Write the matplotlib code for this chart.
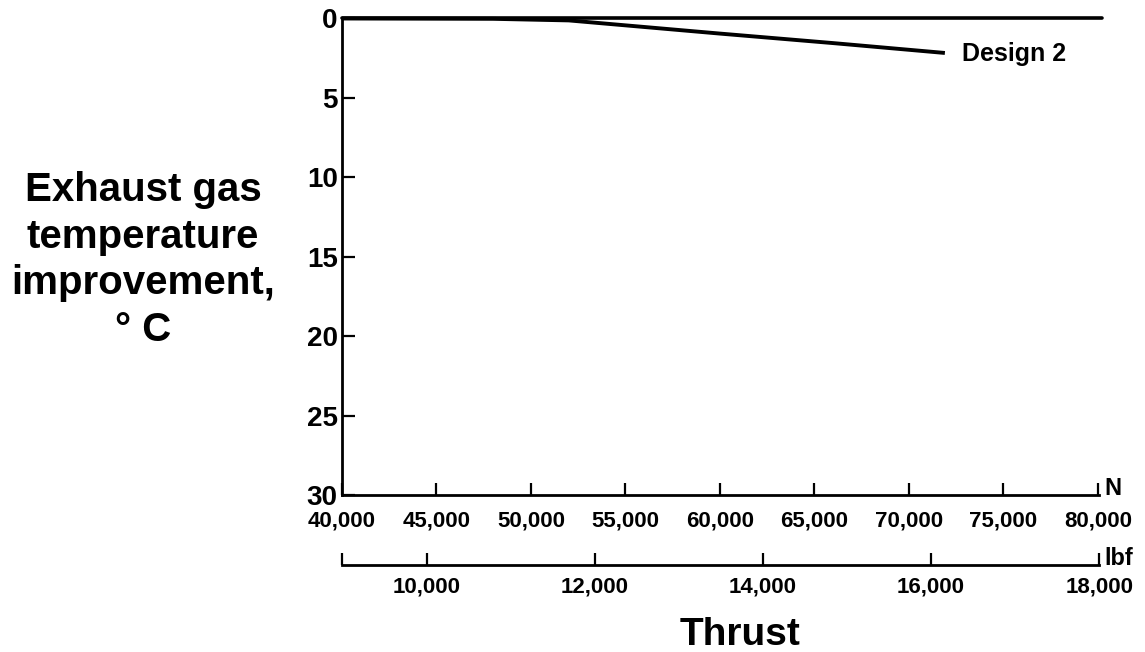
import matplotlib
matplotlib.use("Agg")
import matplotlib.pyplot as plt

plt.rcParams['font.family'] = ['Liberation Sans', 'DejaVu Sans']
plt.rcParams['font.weight'] = 'bold'

# ── Data ──────────────────────────────────────────────────────────────────────
thrust_base = [40000, 80200]          # N
egt_base    = [0, 0]                  # °C
thrust_d2   = [40000, 48000, 52000, 60000, 66000, 71900]
egt_d2      = [0, 0.02, 0.12, 0.95, 1.55, 2.17]

n_ticks    = [40000, 45000, 50000, 55000, 60000, 65000, 70000, 75000, 80000]
n_labels   = ["40,000", "45,000", "50,000", "55,000", "60,000",
              "65,000", "70,000", "75,000", "80,000"]
lbf_ticks  = [40000 / 4.44822, 10000, 12000, 14000, 16000, 18000]
lbf_labels = ["", "10,000", "12,000", "14,000", "16,000", "18,000"]
y_ticks    = [0, 5, 10, 15, 20, 25, 30]

N_PER_LBF = 4.44822
INK = "#000000"

# ── Figure ────────────────────────────────────────────────────────────────────
fig = plt.figure(figsize=(11.45, 6.52), dpi=100)
ax = fig.add_axes([342 / 1145, 1 - 495 / 652, 757.3 / 1145, 476.5 / 652])

ax.plot(thrust_base, egt_base, color=INK, lw=2.6, solid_capstyle='round',
        clip_on=False, zorder=3)
ax.plot(thrust_d2, egt_d2, color=INK, lw=2.8, solid_capstyle='butt',
        clip_on=False, zorder=3)
ax.text(72800, 2.25, "Design 2", fontsize=18, fontweight='bold',
        va='center', ha='left', color=INK)

ax.set_xlim(40000, 80070)
ax.set_ylim(30, 0)

# ── Axes styling ──────────────────────────────────────────────────────────────
for side in ("top", "right"):
    ax.spines[side].set_visible(False)
for side in ("left", "bottom"):
    ax.spines[side].set_linewidth(2.0)

ax.set_yticks(y_ticks)
ax.set_yticklabels([str(v) for v in y_ticks], fontsize=20, fontweight='bold')
ax.set_xticks(n_ticks)
ax.set_xticklabels(n_labels, fontsize=16, fontweight='bold')
ax.tick_params(axis='y', direction='in', length=9, width=1.6, pad=3)
ax.tick_params(axis='x', direction='in', length=9, width=1.6, pad=11)

# secondary lbf scale below
sec = ax.secondary_xaxis(-0.147, functions=(lambda n: n / N_PER_LBF,
                                            lambda f: f * N_PER_LBF))
sec.set_xticks(lbf_ticks)
sec.set_xticklabels(lbf_labels, fontsize=16, fontweight='bold')
sec.spines['bottom'].set_linewidth(2.0)
sec.tick_params(axis='x', direction='in', length=9, width=1.6, pad=8)

ax.annotate("N", xy=(1, 0), xycoords='axes fraction', xytext=(4, 0),
            textcoords='offset points', fontsize=17, fontweight='bold',
            ha='left', va='baseline')
ax.annotate("lbf", xy=(1, -0.147), xycoords='axes fraction', xytext=(4, 0),
            textcoords='offset points', fontsize=17, fontweight='bold',
            ha='left', va='baseline')

# ── Axis titles ───────────────────────────────────────────────────────────────
fig.text(143 / 1145, 1 - 260 / 652,
         "Exhaust gas\ntemperature\nimprovement,\n° C",
         fontsize=29, fontweight='bold', ha='center', va='center',
         multialignment='center', linespacing=1.28)
fig.text(740 / 1145, 1 - 645 / 652, "Thrust", fontsize=28,
         fontweight='bold', ha='center', va='baseline')

plt.savefig('out.png', dpi=100)
